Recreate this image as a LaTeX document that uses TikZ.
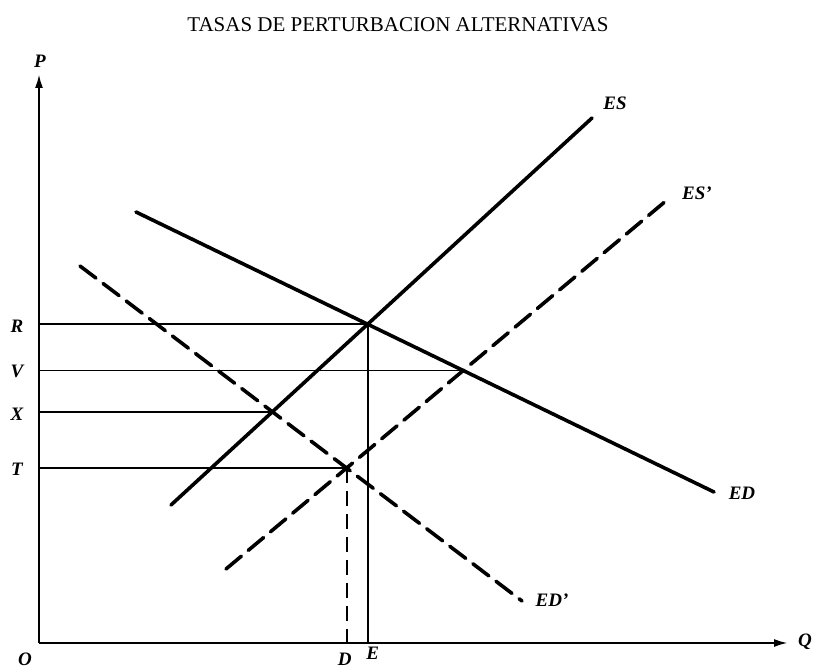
\documentclass[tikz,border=0pt]{standalone}
\usepackage{fontspec}
\setmainfont{Liberation Serif}
\usetikzlibrary{arrows.meta,calc}
\begin{document}
\begin{tikzpicture}[x=1pt,y=-1pt,
  curve/.style={line width=3.6pt,line cap=round},
  dcurve/.style={curve,dash pattern=on 20pt off 9pt},
  guide/.style={line width=1.8pt},
  axis/.style={line width=2.2pt,-{Latex[length=14pt,width=8pt]}},
  lab/.style={font=\fontsize{19}{19}\selectfont\bfseries\itshape,inner sep=0pt},
  ttl/.style={font=\fontsize{21}{21}\selectfont,inner sep=0pt}]
\useasboundingbox (0,0) rectangle (813,671);
\node[ttl] (title) at (398,25) {TASAS DE PERTURBACION ALTERNATIVAS};
% axes
\coordinate (O) at (39,643);
\coordinate (Ptop) at (39,74);
\coordinate (Qend) at (788,643);
\draw[axis] (O) -- (Ptop);
\draw[axis] (O) -- (Qend);
\node[lab] (P) at (40,61) {P};
\node[lab] (Q) at (805,642) {Q};
\node[lab] (Olab) at (25,659) {O};
% curve end points
\coordinate (ESa) at (171,505);  \coordinate (ESb) at (592,118);
\coordinate (ESpa) at (226,569); \coordinate (ESpb) at (667,200);
\coordinate (EDa) at (136,212);  \coordinate (EDb) at (714,492);
\coordinate (EDpa) at (80,266);  \coordinate (EDpb) at (522,601);
% intersections
\coordinate (Rp) at (intersection of ESa--ESb and EDa--EDb);
\coordinate (Vp) at (intersection of ESpa--ESpb and EDa--EDb);
\coordinate (Xp) at (intersection of ESa--ESb and EDpa--EDpb);
\coordinate (Tp) at (intersection of ESpa--ESpb and EDpa--EDpb);
% guide lines
\draw[guide] (O |- Rp) -- (Rp);
\draw[guide] (O |- Vp) -- (Vp);
\draw[guide] (O |- Xp) -- (Xp);
\draw[guide] (O |- Tp) -- (Tp);
\draw[guide] (Rp) -- (Rp |- O);
\draw[guide,dash pattern=on 15pt off 8pt] (Tp) -- (Tp |- O);
% curves
\draw[curve] (ESa) -- (ESb);
\draw[curve] (EDa) -- (EDb);
\draw[dcurve] (ESpa) -- (ESpb);
\draw[dcurve] (EDpa) -- (EDpb);
% labels
\node[lab] (ES) at (615,103) {ES};
\node[lab] (ESp) at (697,193) {ES'};
\node[lab] (ED) at (742,493) {ED};
\node[lab] (EDp) at (552,600) {ED'};
\node[lab] (R) at ($(O |- Rp)+(-22,2)$) {R};
\node[lab] (V) at ($(O |- Vp)+(-22,1)$) {V};
\node[lab] (X) at ($(O |- Xp)+(-22,2)$) {X};
\node[lab] (T) at ($(O |- Tp)+(-22,1)$) {T};
\node[lab] (D) at ($(Tp |- O)+(-2,16)$) {D};
\node[lab] (E) at ($(Rp |- O)+(5,10)$) {E};
\end{tikzpicture}
\end{document}
